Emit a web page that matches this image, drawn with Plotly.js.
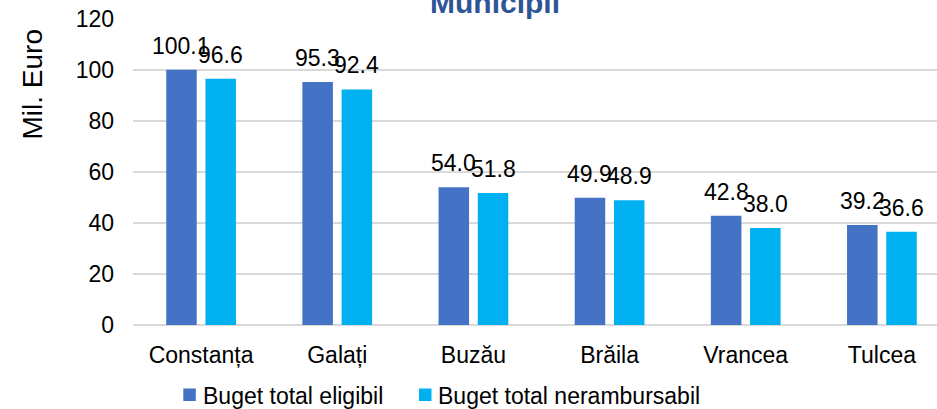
<!DOCTYPE html>
<html><head><meta charset="utf-8">
<script src="https://cdn.plot.ly/plotly-3.0.1.min.js"></script>
<style>html,body{margin:0;padding:0;overflow:hidden;background:#fff}#chart{width:960px;height:409px}</style>
</head><body><div id="chart"></div>
<script>
const categories = ['Constanța','Galați','Buzău','Brăila','Vrancea','Tulcea'];
const seriesNames = ['Buget total eligibil','Buget total nerambursabil'];
const eligibil = [100.1, 95.3, 54.0, 49.9, 42.8, 39.2];
const nerambursabil = [96.6, 92.4, 51.8, 48.9, 38.0, 36.6];
const seriesColors = ['#4472C4', '#00B0F0'];
const yTickVals = [0, 20, 40, 60, 80, 100, 120];
const chartTitle = 'Municipii';
const yTitle = 'Mil. Euro';

const W = 960, H = 409;
const M = {l: 133, r: 10, t: 19, b: 84};
const plotW = W - M.l - M.r, plotH = H - M.t - M.b;
const FONT = 'Liberation Sans, Arial, sans-serif';
const FS = 23;
const bargap = 0.424, bargroupgap = 0.222;
const seriesValues = [eligibil, nerambursabil];
const px2x = p => (p - M.l) / plotW;
const px2y = p => (H - M.b - p) / plotH;

const traces = seriesValues.map((vals, k) => ({
  type: 'bar', name: seriesNames[k], x: categories, y: vals,
  marker: {color: seriesColors[k]}, hoverinfo: 'x+y', showlegend: false
}));

const slot = (plotW / categories.length) * (1 - bargap) / 2;
const annotations = [];
seriesValues.forEach((vals, k) => {
  vals.forEach((v, i) => {
    annotations.push({
      x: i, y: v, xref: 'x', yref: 'y', text: v.toFixed(1), showarrow: false,
      xanchor: 'center', yanchor: 'bottom', xshift: (k - 0.5) * slot, yshift: 9,
      font: {family: FONT, size: FS, color: '#000'}
    });
  });
});
annotations.push({
  xref: 'paper', yref: 'paper', x: px2x(32), y: px2y(84.5),
  xanchor: 'center', yanchor: 'middle', text: yTitle, textangle: -90, showarrow: false,
  font: {family: FONT, size: 28, color: '#000'}
});

// custom legend (positions in pixels)
const legendSquares = [183.3, 419];
const legendTextX = [201.7, 436.7];
const shapes = [];
seriesNames.forEach((name, k) => {
  shapes.push({type: 'rect', xref: 'paper', yref: 'paper',
    x0: px2x(legendSquares[k]), x1: px2x(legendSquares[k] + 12.5),
    y0: px2y(401), y1: px2y(388.5), fillcolor: seriesColors[k], line: {width: 0}});
  annotations.push({xref: 'paper', yref: 'paper', x: px2x(legendTextX[k] - 1), y: px2y(395.5),
    xanchor: 'left', yanchor: 'middle', text: name, showarrow: false,
    font: {family: FONT, size: FS, color: '#000'}});
});

const layout = {
  width: W, height: H, margin: M, paper_bgcolor: '#fff', plot_bgcolor: '#fff',
  font: {family: FONT, size: FS, color: '#000'},
  title: {text: chartTitle, font: {family: FONT, size: 30, color: '#2F5597', weight: 'bold'},
    xref: 'container', x: 495 / W, xanchor: 'center', yref: 'container', y: 1 - 13 / H, yanchor: 'bottom'},
  bargap: bargap, bargroupgap: bargroupgap, barmode: 'group',
  xaxis: {type: 'category', showgrid: false, showline: false, ticks: '', ticklabelstandoff: 14,
    tickfont: {family: FONT, size: FS, color: '#000'}},
  yaxis: {range: [0, 120], tickvals: yTickVals, showgrid: true, gridcolor: '#D9D9D9', gridwidth: 2,
    zeroline: true, zerolinecolor: '#D9D9D9', zerolinewidth: 2, showline: false, ticks: '',
    ticklabelstandoff: 18, tickfont: {family: FONT, size: FS, color: '#000'}},
  showlegend: false,
  shapes: shapes,
  annotations: annotations
};
Plotly.newPlot('chart', traces, layout, {displayModeBar: false, staticPlot: true});
</script></body></html>
